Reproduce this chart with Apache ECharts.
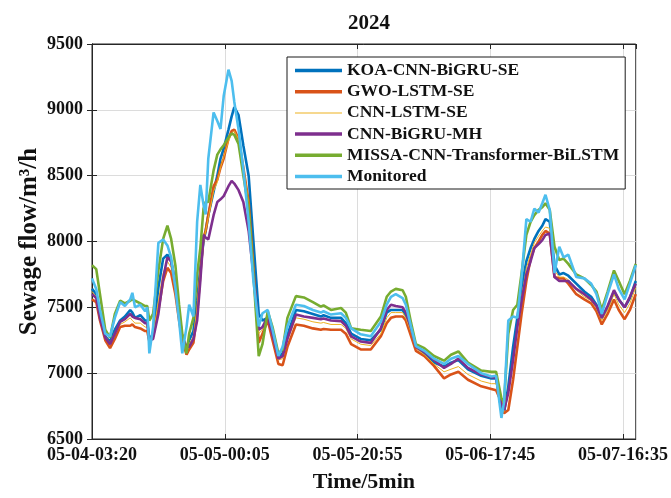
<!DOCTYPE html>
<html>
<head>
<meta charset="utf-8">
<script src="https://cdn.jsdelivr.net/npm/echarts@6/dist/echarts.min.js"></script>
<style>
  html, body { margin: 0; padding: 0; background: #fff; }
  #chart { width: 671px; height: 498px; }
</style>
</head>
<body>
<div id="chart"></div>
<script>
// Sample positions (5-minute steps from 05-04-03:20)
const timeIdx = [0,8,15,25,34,43,53,62,72,76,81,91,100,104,108,115,125,134,142,149,157,164,170,178,183,191,198,204,210,214,219,229,236,242,248,257,263,268,276,285,295,304,314,321,331,340,351,359,368,384,399,416,431,436,450,469,478,488,506,525,544,555,563,572,585,591,601,610,626,644,663,676,690,708,733,752,761,771,776,784,793,801,809,818,826,833,841,848,854,862,871,880,888,897,912,927,940,950,960,971,983,992,1003,1013,1024];

// Tick labels every 250 steps
const tickLabels = ['05-04-03:20', '05-05-00:05', '05-05-20:55', '05-06-17:45', '05-07-16:35'];

const seriesNames = ['KOA-CNN-BiGRU-SE', 'GWO-LSTM-SE', 'CNN-LSTM-SE', 'CNN-BiGRU-MH', 'MISSA-CNN-Transformer-BiLSTM', 'Monitored'];

const koa = [7640,7600,7430,7280,7240,7330,7400,7430,7480,7460,7420,7440,7400,7400,7250,7300,7650,7870,7900,7850,7680,7430,7250,7180,7250,7320,7550,7800,8000,8080,8200,8380,8500,8630,8705,8850,8950,9020,8960,8730,8500,8000,7450,7400,7420,7300,7120,7150,7290,7480,7470,7450,7430,7440,7420,7420,7380,7300,7260,7250,7330,7460,7480,7480,7480,7440,7330,7200,7150,7080,7050,7080,7100,7030,6980,6960,6960,6720,6700,6900,7200,7420,7650,7850,7950,8020,8080,8120,8170,8150,7820,7750,7760,7740,7680,7620,7580,7520,7420,7500,7620,7560,7500,7570,7700];

const gwo = [7560,7540,7400,7250,7190,7260,7350,7360,7360,7370,7350,7340,7320,7320,7240,7280,7480,7700,7800,7760,7600,7400,7250,7140,7180,7230,7450,7750,8030,8080,8200,8420,8470,8560,8630,8780,8840,8850,8780,8560,8300,7800,7230,7300,7400,7250,7070,7060,7200,7370,7360,7340,7330,7335,7330,7330,7300,7220,7180,7180,7280,7380,7420,7430,7430,7400,7280,7170,7130,7055,6960,6990,7010,6950,6900,6880,6870,6780,6695,6720,6950,7200,7450,7700,7870,7950,8000,8050,8080,8060,7730,7720,7720,7680,7600,7560,7530,7470,7370,7450,7560,7480,7410,7480,7600];

const cnnLstm = [7620,7580,7430,7280,7230,7310,7370,7390,7420,7400,7380,7380,7350,7350,7250,7290,7550,7760,7850,7800,7640,7420,7260,7160,7220,7280,7500,7770,8000,8080,8180,8380,8450,8560,8640,8760,8820,8840,8780,8570,8300,7820,7300,7330,7420,7280,7100,7110,7250,7420,7410,7390,7380,7385,7370,7370,7340,7260,7220,7210,7300,7420,7460,7460,7460,7420,7310,7190,7140,7070,7010,7030,7050,6990,6940,6920,6920,6740,6710,6850,7100,7330,7580,7800,7900,7990,8040,8080,8110,8100,7780,7730,7730,7710,7630,7580,7550,7490,7400,7480,7600,7520,7460,7530,7650];

const cnnBigru = [7600,7570,7420,7270,7220,7300,7390,7410,7450,7430,7420,7410,7380,7380,7250,7260,7450,7720,7880,7850,7680,7450,7280,7200,7200,7260,7400,7700,8050,8030,8015,8200,8300,8320,8345,8420,8460,8440,8390,8300,8080,7750,7330,7350,7430,7290,7110,7130,7260,7445,7430,7420,7410,7415,7400,7395,7360,7280,7240,7230,7340,7480,7520,7510,7500,7460,7340,7200,7160,7100,7040,7070,7110,7040,6990,6970,6965,6750,6720,6850,7100,7350,7550,7750,7850,7950,7980,8010,8050,8060,7730,7700,7700,7700,7640,7600,7560,7510,7420,7510,7630,7560,7500,7580,7680];

const missa = [7820,7790,7600,7330,7270,7450,7550,7530,7550,7560,7550,7530,7510,7510,7400,7450,7780,8020,8120,8020,7820,7520,7300,7150,7300,7420,7750,7950,8250,8300,8300,8540,8660,8700,8730,8790,8820,8810,8740,8500,8250,7750,7130,7220,7470,7350,7150,7180,7420,7585,7575,7540,7505,7515,7480,7495,7460,7340,7330,7320,7430,7580,7620,7640,7630,7580,7380,7220,7190,7130,7095,7140,7165,7080,7020,7010,7010,6810,6780,7300,7480,7520,7760,8050,8150,8200,8240,8260,8290,8240,7960,7860,7870,7830,7750,7720,7670,7620,7480,7620,7780,7700,7600,7700,7830];

const monitored = [7720,7640,7480,7300,7280,7420,7540,7510,7560,7610,7500,7520,7470,7500,7150,7350,7990,8015,7970,7880,7650,7400,7150,7350,7520,7430,8150,8430,8280,8205,8630,8980,8915,8855,9105,9305,9220,9060,8850,8550,8150,7700,7355,7455,7480,7330,7130,7200,7355,7520,7510,7480,7460,7470,7445,7455,7420,7340,7295,7280,7390,7520,7580,7600,7570,7520,7350,7205,7170,7110,7070,7110,7130,7070,7000,6975,6980,6660,6780,7400,7430,7420,7730,8170,8150,8250,8220,8290,8355,8240,7760,7960,7880,7900,7730,7720,7680,7600,7450,7600,7750,7640,7560,7680,7820];

const seriesValues = [koa, gwo, cnnLstm, cnnBigru, missa, monitored];
const seriesColors = ['#0072BD', '#D95319', '#EDB120', '#7E2F8E', '#77AC30', '#4DBEEE'];
const seriesWidths = [2.6, 2.6, 1, 2.6, 2.6, 2.6];

const FONT = 'Liberation Serif';
const TXT = '#111';

const chart = echarts.init(document.getElementById('chart'), null, { renderer: 'canvas' });

const series = seriesNames.map((name, i) => ({
  name,
  type: 'line',
  xAxisIndex: 0,
  yAxisIndex: 0,
  data: timeIdx.map((t, k) => [t, seriesValues[i][k]]),
  showSymbol: false,
  symbol: 'none',
  smooth: false,
  lineStyle: { color: seriesColors[i], width: seriesWidths[i] },
  itemStyle: { color: seriesColors[i] },
  emphasis: { disabled: true },
  animation: false
}));

const xMin = 0, xMax = 1024, xStep = 250;

// Legend swatches: thin bars, thicker for the bold series
const thickBar = 'path://M0,0 L47,0 L47,3.5 L0,3.5 Z';
const thinBar = 'path://M0,0 L47,0 L47,1 L0,1 Z';

chart.setOption({
  animation: false,
  backgroundColor: '#fff',
  title: {
    text: '2024',
    left: 364, top: 8,
    textAlign: 'center',
    textStyle: { fontFamily: FONT, fontWeight: 'bold', fontSize: 21, color: TXT }
  },
  grid: {
    left: 92, right: 35, top: 44, bottom: 54,
    show: true, borderColor: '#262626', borderWidth: 1, backgroundColor: '#fff'
  },
  legend: {
    orient: 'vertical',
    left: 287, top: 57,
    padding: [4, 6, 3, 8],
    itemWidth: 47, itemHeight: 14, itemGap: 2.2,
    backgroundColor: '#fff',
    borderColor: '#1a1a1a', borderWidth: 1, borderRadius: 0,
    selectedMode: false,
    textStyle: { fontFamily: FONT, fontWeight: 'bold', fontSize: 17.5, color: TXT, lineHeight: 19 },
    data: seriesNames.map((n, i) => ({
      name: n,
      icon: i === 2 ? thinBar : thickBar,
      itemStyle: { color: seriesColors[i], borderWidth: 0 }
    }))
  },
  xAxis: [{
    type: 'value', min: xMin, max: xMax, interval: xStep,
    name: 'Time/5min', nameLocation: 'middle', nameGap: 32,
    nameTextStyle: { fontFamily: FONT, fontWeight: 'bold', fontSize: 22, color: TXT },
    axisLine: { show: true, lineStyle: { color: '#262626', width: 1 } },
    axisTick: { show: true, inside: true, length: 5, lineStyle: { color: '#262626' } },
    axisLabel: {
      fontFamily: FONT, fontWeight: 'bold', fontSize: 18, color: TXT, margin: 7,
      showMaxLabel: false,
      formatter: v => (v % xStep === 0 ? tickLabels[v / xStep] : '')
    },
    splitLine: { show: true, lineStyle: { color: '#dcdcdc', width: 1 } }
  }, {
    type: 'value', min: xMin, max: xMax, interval: xStep, position: 'top',
    axisLine: { show: true, lineStyle: { color: '#262626', width: 1 } },
    axisTick: { show: true, inside: true, length: 5, lineStyle: { color: '#262626' } },
    axisLabel: { show: false }, splitLine: { show: false }
  }],
  yAxis: [{
    type: 'value', min: 6500, max: 9500, interval: 500,
    name: 'Sewage flow/m³/h', nameLocation: 'middle', nameGap: 50, nameMoveOverlap: false,
    nameTextStyle: { fontFamily: FONT, fontWeight: 'bold', fontSize: 25, color: TXT },
    axisLine: { show: true, lineStyle: { color: '#262626', width: 1 } },
    axisTick: { show: true, inside: true, length: 5, lineStyle: { color: '#262626' } },
    axisLabel: { fontFamily: FONT, fontWeight: 'bold', fontSize: 18, color: TXT, margin: 9, formatter: v => String(v) },
    splitLine: { show: true, lineStyle: { color: '#dcdcdc', width: 1 } }
  }, {
    type: 'value', min: 6500, max: 9500, interval: 500, position: 'right',
    axisLine: { show: true, lineStyle: { color: '#262626', width: 1 } },
    axisTick: { show: true, inside: true, length: 5, lineStyle: { color: '#262626' } },
    axisLabel: { show: false }, splitLine: { show: false }
  }],
  series
});
</script>
</body>
</html>
